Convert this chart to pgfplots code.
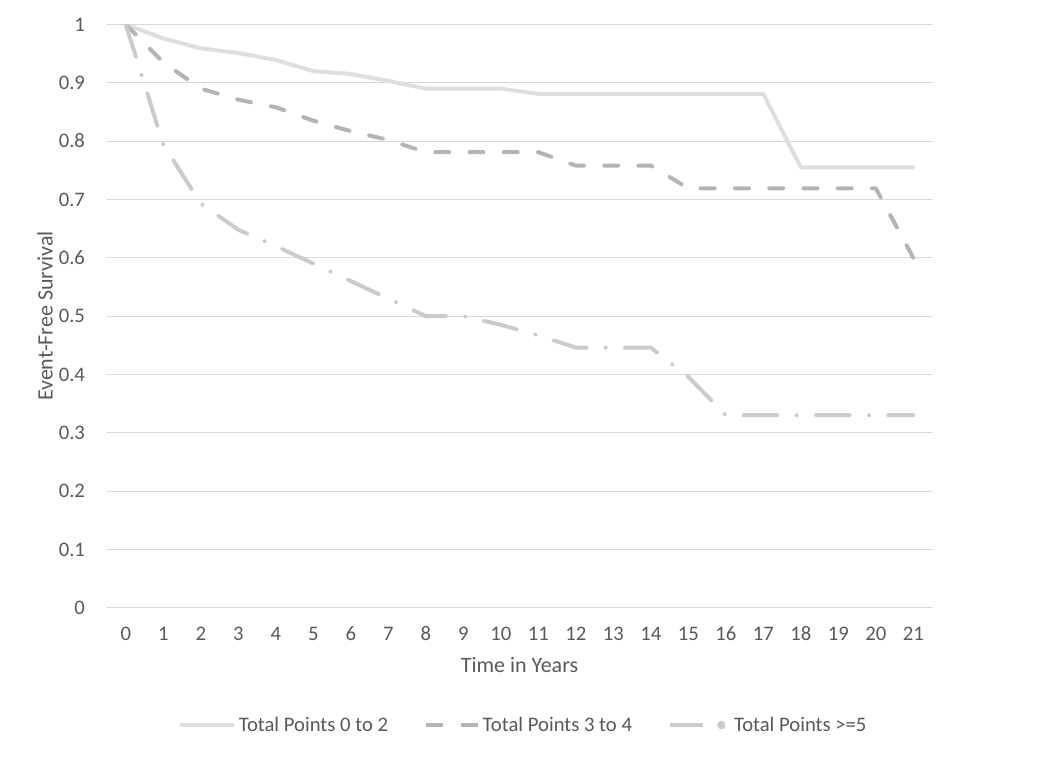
\documentclass[border=0pt]{standalone}
\usepackage{pgfplots}
\pgfplotsset{compat=1.18}
\usepackage{fontspec}
\setmainfont{Carlito}
\definecolor{txt}{HTML}{595959}
\definecolor{gridc}{HTML}{D9D9D9}
\definecolor{cA}{HTML}{DEDEDE}
\definecolor{cB}{HTML}{B4B4B4}
\definecolor{cC}{HTML}{CBCBCB}
\pgfplotsset{
  legA/.style={legend image code/.code={\draw[##1] (1.5pt,0pt) -- (42pt,0pt);}},
  legB/.style={legend image code/.code={\draw[##1, solid] (1.5pt,0pt) -- (14pt,0pt); \draw[##1, solid] (28pt,0pt) -- (40.5pt,0pt);}},
  legC/.style={legend image code/.code={\draw[##1, solid] (1.5pt,0pt) -- (26.5pt,0pt); \fill[cC] (40pt,0pt) circle (1.6pt); \path (46pt,0pt);}},
}
\begin{document}
\begin{tikzpicture}
\begin{axis}[
  name=ax,
  scale only axis,
  width=618.75pt, height=437.5pt,
  xmin=-0.5, xmax=21.5, ymin=0, ymax=1,
  xtick={0,...,21},
  ytick={0,0.1,...,1.01},
  yticklabels={0,0.1,0.2,0.3,0.4,0.5,0.6,0.7,0.8,0.9,1},
  ymajorgrids, major grid style={gridc, line width=0.75pt},
  axis line style={draw=none},
  major tick length=0pt,
  tick label style={font=\fontsize{15.5}{18}\selectfont, text=txt},
  /pgf/number format/assume math mode=true,
  xticklabel style={anchor=base, yshift=-24.9pt},
  yticklabel style={anchor=base east, xshift=-13pt, yshift=-5pt},
  xlabel={Time in Years}, ylabel={Event-Free Survival},
  label style={font=\fontsize{16.5}{19}\selectfont, text=txt},
  xlabel style={at={(axis description cs:0.5,0)}, anchor=center, yshift=-43pt},
  ylabel style={at={(axis description cs:0,0.5)}, anchor=center, rotate=0, yshift=46.5pt},
  legend style={draw=none, fill=none, at={(axis description cs:0.505,0)}, anchor=center, yshift=-88pt,
    font=\fontsize{15.5}{18}\selectfont, text=txt, legend columns=3,
    nodes={inner xsep=2pt},
    /tikz/every even column/.append style={column sep=25pt}},
  line cap=round, line join=round,
]
\addplot[cA, line width=3pt, legA] coordinates {
(0,1.0) (1,0.976) (2,0.959) (3,0.951) (4,0.939) (5,0.920) (6,0.915) (7,0.903) (8,0.890) (9,0.890) (10,0.890)
(11,0.881) (12,0.881) (13,0.881) (14,0.881) (15,0.881) (16,0.881) (17,0.881) (18,0.755) (19,0.755) (20,0.755) (21,0.755)};
\addlegendentry{Total Points 0 to 2}
\addplot[cB, line width=3pt, dash pattern=on 10.5pt off 15.2pt, legB] coordinates {
(0,1.0) (1,0.935) (2,0.890) (3,0.871) (4,0.858) (5,0.835) (6,0.817) (7,0.802) (8,0.781) (9,0.781) (10,0.781)
(11,0.781) (12,0.758) (13,0.758) (14,0.758) (15,0.719) (16,0.719) (17,0.719) (18,0.719) (19,0.719) (20,0.719) (21,0.600)};
\addlegendentry{Total Points 3 to 4}
\addplot[cC, line width=3pt, dash pattern=on 25.3pt off 14.5pt on 0pt off 14.5pt, legC] coordinates {
(0,1.0) (1,0.794) (2,0.693) (3,0.648) (4,0.620) (5,0.590) (6,0.560) (7,0.530) (8,0.500) (9,0.500) (10,0.485)
(11,0.467) (12,0.446) (13,0.446) (14,0.446) (15,0.396) (16,0.330) (17,0.330) (18,0.330) (19,0.330) (20,0.330) (21,0.330)};
\addlegendentry{Total Points >=5}
\end{axis}
\path[use as bounding box] ([shift={(-80.25pt,-114.2pt)}]ax.south west) rectangle ([shift={(707.25pt,455.8pt)}]ax.south west);
\end{tikzpicture}
\end{document}
